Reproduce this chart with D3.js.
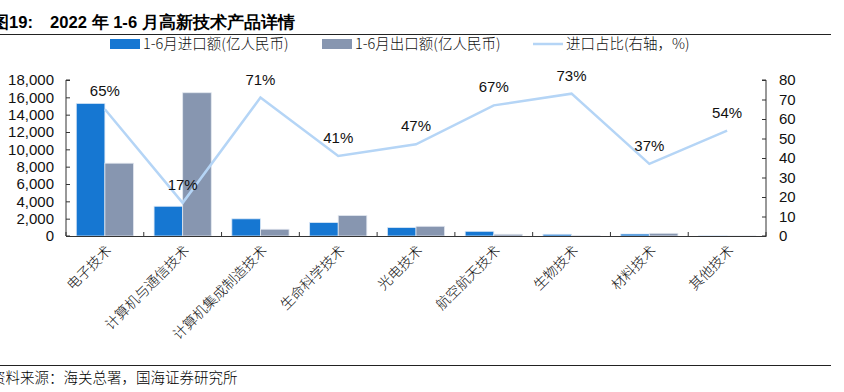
<!DOCTYPE html>
<html>
<head>
<meta charset="utf-8">
<script src="https://cdn.jsdelivr.net/npm/d3@7"></script>
<style>
  body { margin: 0; background: #fff; }
  svg { display: block; }
</style>
</head>
<body>
<div id="chart"></div>
<script>
// chart data
const categories = ["电子技术", "计算机与通信技术", "计算机集成制造技术", "生命科学技术",
    "光电技术", "航空航天技术", "生物技术", "材料技术", "其他技术"];
const importValues = [15300, 3430, 1980, 1550, 970, 540, 200, 230, 10];
const exportValues = [8400, 16530, 780, 2360, 1120, 200, 30, 310, 5];
const importShare = [65, 17, 71, 41, 47, 67, 73, 37, 54];
const leftTicks = [0, 2000, 4000, 6000, 8000, 10000, 12000, 14000, 16000, 18000];
const rightTicks = [0, 10, 20, 30, 40, 50, 60, 70, 80];

const width = 844, height = 392;
const margin = { top: 80, right: 78, bottom: 156, left: 66 };
const blue = "#1677d2", grey = "#8796b0", lineColor = "#b5d5f6";
const cjk = "'Noto Sans CJK SC', sans-serif";
const latin = "'Liberation Sans', Arial, sans-serif";

const svg = d3.select("#chart").append("svg")
    .attr("width", width).attr("height", height);

// title + rules
const title = svg.append("text")
    .attr("y", 28)
    .attr("font-family", latin).attr("font-weight", "bold").attr("font-size", 16.6);
title.append("tspan").attr("x", -8).text("图19:");
title.append("tspan").attr("x", 50).text("2022 年 1-6 月高新技术产品详情");
svg.append("line").attr("x1", 0).attr("x2", 831).attr("y1", 34.5).attr("y2", 34.5)
    .attr("stroke", "#222").attr("stroke-width", 1);
svg.append("line").attr("x1", 0).attr("x2", 831).attr("y1", 365.5).attr("y2", 365.5)
    .attr("stroke", "#222").attr("stroke-width", 1);
svg.append("text")
    .attr("x", -9).attr("y", 383)
    .attr("font-family", cjk).attr("font-weight", 300).attr("font-size", 14.5)
    .text("资料来源：海关总署，国海证券研究所");

const x0 = margin.left, x1 = width - margin.right;
const yBase = height - margin.bottom;

const x = d3.scaleBand().domain(categories).range([x0, x1]).paddingInner(0).paddingOuter(0);
const xSub = d3.scaleBand().domain(["imp", "exp"]).range([0, x.bandwidth()]).paddingInner(0).paddingOuter(0.36);
const yL = d3.scaleLinear().domain([0, 18000]).range([yBase, margin.top]);
const yR = d3.scaleLinear().domain([0, 80]).range([yBase, margin.top]);

// bars
const groups = svg.append("g").selectAll("g")
    .data(categories)
    .join("g")
    .attr("transform", d => `translate(${x(d)},0)`);
groups.append("rect")
    .attr("x", xSub("imp"))
    .attr("y", (d, i) => yL(importValues[i]))
    .attr("width", xSub.bandwidth())
    .attr("height", (d, i) => yBase - yL(importValues[i]))
    .attr("fill", blue)
    .attr("stroke", "#d8e6f6").attr("stroke-width", 0.8);
groups.append("rect")
    .attr("x", xSub("exp"))
    .attr("y", (d, i) => yL(exportValues[i]))
    .attr("width", xSub.bandwidth())
    .attr("height", (d, i) => yBase - yL(exportValues[i]))
    .attr("fill", grey)
    .attr("stroke", "#e2e7ef").attr("stroke-width", 0.8);

// axes
const axisColor = "#333";
const leftAxis = svg.append("g")
    .attr("transform", `translate(${x0},0)`)
    .call(d3.axisRight(yL).tickValues(leftTicks).tickSize(4).tickFormat(d3.format(",")));
leftAxis.selectAll("text")
    .attr("x", -12).attr("text-anchor", "end");
const rightAxis = svg.append("g")
    .attr("transform", `translate(${x1},0)`)
    .call(d3.axisLeft(yR).tickValues(rightTicks).tickSize(4));
rightAxis.selectAll("text")
    .attr("x", 13).attr("text-anchor", "start");
const bottomAxis = svg.append("g")
    .attr("transform", `translate(0,${yBase})`)
    .call(d3.axisTop(x).tickSize(0).tickFormat(""));
bottomAxis.selectAll(".tick").remove();
bottomAxis.append("g").selectAll("line")
    .data(d3.range(categories.length + 1))
    .join("line")
    .attr("x1", i => x0 + i * x.step()).attr("x2", i => x0 + i * x.step())
    .attr("y1", 0).attr("y2", -4)
    .attr("stroke", axisColor);

[leftAxis, rightAxis, bottomAxis].forEach(a => {
    a.select(".domain").attr("stroke", axisColor);
    a.selectAll(".tick line").attr("stroke", axisColor);
    a.selectAll("text").attr("font-family", latin).attr("font-size", 15).attr("fill", "#111");
});
leftAxis.select(".domain").attr("d", `M4,${margin.top}H0V${yBase}H4`);
rightAxis.select(".domain").attr("d", `M-4,${margin.top}H0V${yBase}H-4`);

// category labels, rotated
svg.append("g")
    .selectAll("text")
    .data(categories)
    .join("text")
    .attr("transform", d => `translate(${x(d) + x.bandwidth() / 2 + 4},${yBase + 12}) rotate(-45)`)
    .attr("text-anchor", "end")
    .attr("dy", "0.35em")
    .attr("font-family", cjk).attr("font-weight", 300).attr("font-size", 14)
    .attr("fill", "#111")
    .text(d => d);

// import share line
const cx = d => x(d) + x.bandwidth() / 2;
const line = d3.line()
    .x((d, i) => cx(categories[i]))
    .y(d => yR(d));
svg.append("path")
    .datum(importShare)
    .attr("d", line)
    .attr("fill", "none")
    .attr("stroke", lineColor)
    .attr("stroke-width", 2.5);

svg.append("g")
    .selectAll("text")
    .data(importShare)
    .join("text")
    .attr("x", (d, i) => cx(categories[i]))
    .attr("y", d => yR(d) - 13)
    .attr("text-anchor", "middle")
    .attr("font-family", latin).attr("font-size", 15)
    .attr("fill", "#111")
    .text(d => d + "%");

// legend
const legend = svg.append("g").attr("font-size", 14.5);
const lg = [
    { x: 110, type: "rect", color: blue, label: "1-6月进口额(亿人民币)" },
    { x: 322, type: "rect", color: grey, label: "1-6月出口额(亿人民币)" },
    { x: 533, type: "line", color: lineColor, label: "进口占比(右轴，%)" }
];
lg.forEach(l => {
    if (l.type === "rect") {
        legend.append("rect").attr("x", l.x).attr("y", 39).attr("width", 30).attr("height", 10)
            .attr("fill", l.color);
    } else {
        legend.append("line").attr("x1", l.x).attr("x2", l.x + 30).attr("y1", 44).attr("y2", 44)
            .attr("stroke", l.color).attr("stroke-width", 2.5);
    }
    legend.append("text").attr("x", l.x + 33).attr("y", 49)
        .attr("font-family", cjk).attr("font-weight", 300).attr("fill", "#111")
        .text(l.label);
});
</script>
</body>
</html>
